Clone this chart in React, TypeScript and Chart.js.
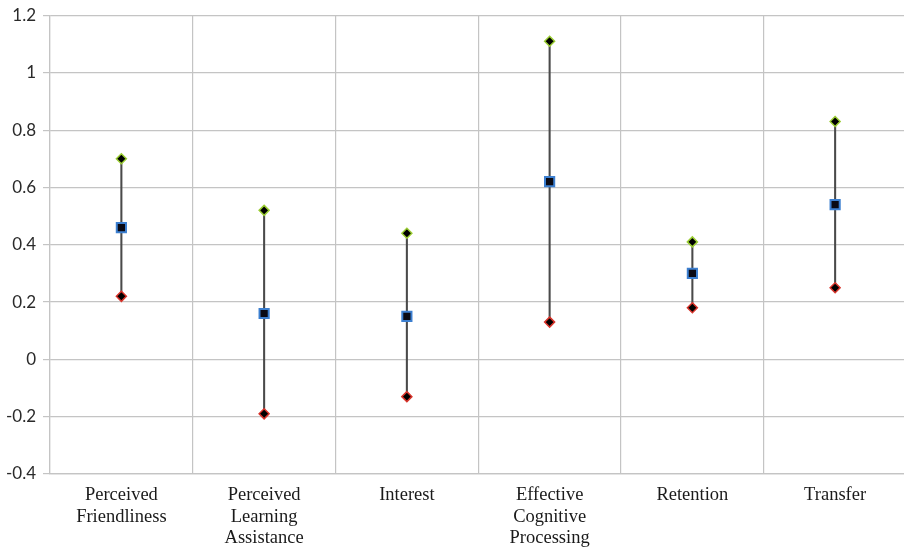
import React, { useEffect, useRef } from "react";
import { Chart, registerables } from "chart.js";

Chart.register(...registerables);

const categories: string[][] = [
  ["Perceived", "Friendliness"],
  ["Perceived", "Learning", "Assistance"],
  ["Interest"],
  ["Effective", "Cognitive", "Processing"],
  ["Retention"],
  ["Transfer"],
];
const highValues = [0.70, 0.52, 0.44, 1.11, 0.41, 0.83];
const meanValues = [0.46, 0.16, 0.15, 0.62, 0.30, 0.54];
const lowValues = [0.22, -0.19, -0.13, 0.13, 0.18, 0.25];
const yMin = -0.4;
const yMax = 1.2;
const yStep = 0.2;

export default function App() {
  const ref = useRef<HTMLCanvasElement | null>(null);
  useEffect(() => {
    if (!ref.current) return;
    const ranges = lowValues.map((l, i) => [l, highValues[i]]);
    const chart = new Chart(ref.current, {
      type: "bar",
      data: {
        labels: categories as any,
        datasets: [
          {
            type: "bar",
            data: ranges as any,
            backgroundColor: "#4a4a4a",
            barThickness: 1.4,
            order: 10,
          } as any,
          {
            type: "line",
            data: highValues,
            showLine: false,
            pointStyle: "rectRot",
            pointRadius: 5,
            pointBackgroundColor: "#000000",
            pointBorderColor: "#9acd32",
            pointBorderWidth: 1.5,
            order: 1,
          } as any,
          {
            type: "line",
            data: lowValues,
            showLine: false,
            pointStyle: "rectRot",
            pointRadius: 5,
            pointBackgroundColor: "#000000",
            pointBorderColor: "#d9342b",
            pointBorderWidth: 1.5,
            order: 1,
          } as any,
          {
            type: "line",
            data: meanValues,
            showLine: false,
            pointStyle: "rect",
            pointRadius: 6.5,
            pointBackgroundColor: "#0a0a14",
            pointBorderColor: "#3c7fd0",
            pointBorderWidth: 2,
            order: 0,
          } as any,
        ],
      },
      options: {
        animation: false,
        responsive: false,
        maintainAspectRatio: false,
        layout: { padding: { top: 14, left: 0, right: 0, bottom: 0 } },
        plugins: { legend: { display: false }, tooltip: { enabled: false } },
        scales: {
          x: {
            offset: true,
            grid: {
              offset: true,
              color: "#c4c4c4",
              lineWidth: 1.2,
              drawTicks: false,
            },
            border: { color: "#c4c4c4", width: 1.2 },
            ticks: {
              color: "#1a1a1a",
              padding: 10,
              maxRotation: 0,
              autoSkip: false,
              font: { family: "'Liberation Serif', serif", size: 18.5, lineHeight: 1.18 },
            },
            afterFit: (s: any) => {
              s.height = 77;
            },
          },
          y: {
            min: yMin,
            max: yMax,
            ticks: {
              stepSize: yStep,
              color: "#2a2a2a",
              padding: 7,
              font: { family: "Lato, 'Open Sans', sans-serif", size: 17, lineHeight: 1 },
              callback: (v: any) => String(Math.round(Number(v) * 10) / 10),
            },
            grid: { color: "#c4c4c4", lineWidth: 1.2, tickLength: 7 },
            border: { color: "#c4c4c4", width: 1.2 },
            afterFit: (s: any) => {
              s.width = 50;
            },
          },
        },
      },
    });
    return () => chart.destroy();
  }, []);
  return (
    <div
      style={{
        position: "fixed",
        left: 0,
        top: 0,
        width: 904,
        height: 551,
        overflow: "hidden",
        background: "#ffffff",
      }}
    >
      <canvas ref={ref} width={915} height={551} style={{ display: "block" }} />
    </div>
  );
}
